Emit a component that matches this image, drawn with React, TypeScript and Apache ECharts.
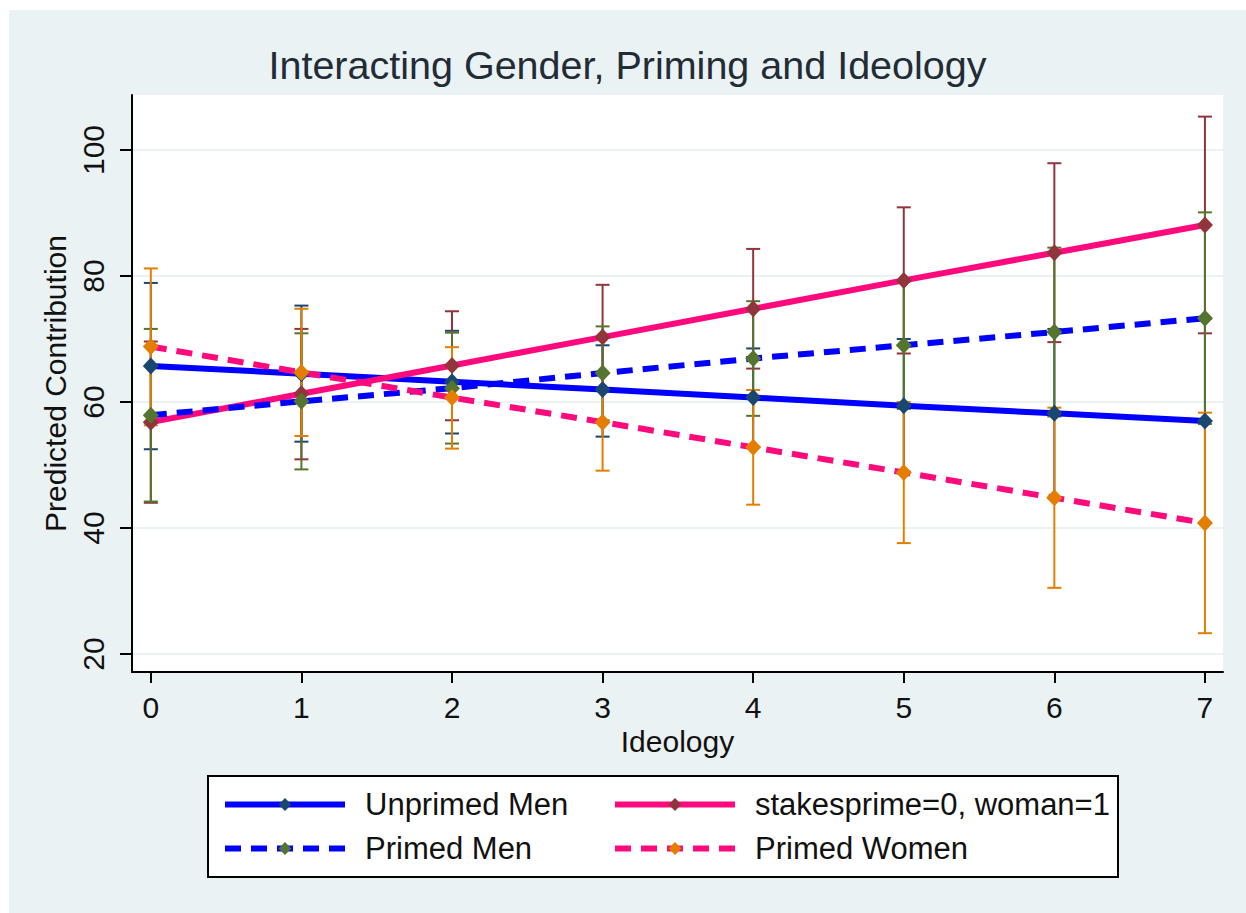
import React, { useEffect, useRef } from "react";
import * as echarts from "echarts";

// Ideology scale positions (x values)
const ideology = [0, 1, 2, 3, 4, 5, 6, 7];
const yTicks = [20, 40, 60, 80, 100];
const xTicks = [0, 1, 2, 3, 4, 5, 6, 7];

// Predicted contributions by group, with 95% interval bounds
const unprimedMen = [65.7, 64.5, 63.2, 62.0, 60.7, 59.4, 58.2, 57.0];
const unprimedMenLo = [52.5, 53.7, 55.0, 54.5, 52.9, 48.8, 44.8, 40.8];
const unprimedMenHi = [78.9, 75.3, 71.3, 69.0, 68.5, 70.0, 71.6, 73.2];

const unprimedWomen = [56.8, 61.3, 65.8, 70.3, 74.8, 79.3, 83.7, 88.1];
const unprimedWomenLo = [44.0, 50.9, 57.1, 62.0, 65.3, 67.7, 69.5, 70.9];
const unprimedWomenHi = [69.6, 71.6, 74.4, 78.6, 84.3, 90.9, 97.9, 105.3];

const primedMen = [57.9, 60.1, 62.2, 64.6, 66.9, 69.0, 71.1, 73.3];
const primedMenLo = [44.2, 49.3, 53.4, 57.1, 57.8, 58.9, 57.7, 56.5];
const primedMenHi = [71.6, 70.9, 71.0, 72.0, 76.0, 79.1, 84.5, 90.1];

const primedWomen = [68.8, 64.7, 60.7, 56.8, 52.8, 48.8, 44.8, 40.8];
const primedWomenLo = [56.3, 54.6, 52.6, 49.1, 43.7, 37.6, 30.5, 23.3];
const primedWomenHi = [81.2, 74.8, 68.7, 64.5, 61.9, 60.0, 59.1, 58.3];

const NAVY = "#1a476f";
const MAROON = "#90353b";
const GREEN = "#55752f";
const ORANGE = "#e37e00";
const BLUE = "#0000ff";
const PINK = "#ff0a7c";
const BG = "#eaf2f3";
const FONT = "Liberation Sans, Arial, sans-serif";

const groups = [
  { name: "Unprimed Men", mid: unprimedMen, lo: unprimedMenLo, hi: unprimedMenHi, line: BLUE, marker: NAVY, dashed: false },
  { name: "stakesprime=0, woman=1", mid: unprimedWomen, lo: unprimedWomenLo, hi: unprimedWomenHi, line: PINK, marker: MAROON, dashed: false },
  { name: "Primed Men", mid: primedMen, lo: primedMenLo, hi: primedMenHi, line: BLUE, marker: GREEN, dashed: true },
  { name: "Primed Women", mid: primedWomen, lo: primedWomenLo, hi: primedWomenHi, line: PINK, marker: ORANGE, dashed: true },
];

const legendSlots = [
  { left: 213, top: 779 },
  { left: 603, top: 779 },
  { left: 213, top: 823 },
  { left: 603, top: 823 },
];

function capBars(color: string) {
  return (_params: any, api: any) => {
    const x = api.value(0);
    const pLo = api.coord([x, api.value(1)]);
    const pHi = api.coord([x, api.value(2)]);
    const hw = 7;
    const style = { stroke: color, lineWidth: 2 };
    return {
      type: "group",
      children: [
        { type: "line", shape: { x1: pLo[0], y1: pLo[1], x2: pHi[0], y2: pHi[1] }, style },
        { type: "line", shape: { x1: pLo[0] - hw, y1: pLo[1], x2: pLo[0] + hw, y2: pLo[1] }, style },
        { type: "line", shape: { x1: pHi[0] - hw, y1: pHi[1], x2: pHi[0] + hw, y2: pHi[1] }, style },
      ],
    };
  };
}

export default function App() {
  const ref = useRef<HTMLDivElement>(null);

  useEffect(() => {
    if (!ref.current) return;
    const chart = echarts.init(ref.current, null, { renderer: "svg" });

    const barSeries = groups.map((g) => ({
      type: "custom",
      name: g.name + " CI",
      z: 1,
      silent: true,
      renderItem: capBars(g.marker),
      encode: { x: 0, y: [1, 2] },
      data: ideology.map((x, i) => [x, g.lo[i], g.hi[i]]),
    }));

    const lineSeries = groups.map((g) => ({
      type: "line",
      name: g.name,
      z: 3,
      data: ideology.map((x, i) => [x, g.mid[i]]),
      symbol: "diamond",
      symbolSize: [16, 17],
      showSymbol: true,
      itemStyle: { color: g.marker },
      lineStyle: {
        color: g.line,
        width: 6,
        type: g.dashed ? [16, 10] : "solid",
      },
    }));

    chart.setOption({
      animation: false,
      backgroundColor: BG,
      title: {
        text: "Interacting Gender, Priming and Ideology",
        left: "center",
        top: 30,
        textStyle: { fontFamily: FONT, fontSize: 39.5, fontWeight: "normal", color: "#222b36" },
      },
      legend: groups.map((g, i) => ({
        data: [g.name],
        left: legendSlots[i].left,
        top: legendSlots[i].top,
        padding: 0,
        itemWidth: 120,
        itemHeight: 16,
        selectedMode: false,
        lineStyle: { width: 6 },
        textStyle: { fontFamily: FONT, fontSize: 31, color: "#111", padding: [0, 0, 0, 15] },
      })),
      graphic: [
        {
          type: "rect",
          z: 1,
          shape: { x: 199, y: 766, width: 910, height: 101 },
          style: { fill: "#fff", stroke: "#000", lineWidth: 2 },
        },
      ],
      grid: {
        left: 123,
        right: 23,
        top: 85,
        bottom: 241,
        show: true,
        backgroundColor: "#fff",
        borderWidth: 0,
      },
      xAxis: {
        type: "value",
        min: -0.125,
        max: 7.12,
        name: "Ideology",
        nameLocation: "middle",
        nameGap: 48,
        nameTextStyle: { fontFamily: FONT, fontSize: 30, color: "#111" },
        axisLine: { show: true, onZero: false, lineStyle: { color: "#000", width: 2 } },
        axisTick: { show: true, length: 11, lineStyle: { color: "#000", width: 2 }, customValues: xTicks },
        axisLabel: { fontFamily: FONT, fontSize: 30, color: "#111", margin: 20, customValues: xTicks },
        splitLine: { show: false },
      },
      yAxis: {
        type: "value",
        min: 17.14,
        max: 108.73,
        name: "Predicted Contribution",
        nameLocation: "middle",
        nameGap: 58,
        nameTextStyle: { fontFamily: FONT, fontSize: 30, color: "#111" },
        axisLine: { show: true, onZero: false, lineStyle: { color: "#000", width: 2 } },
        axisTick: { show: true, length: 12, lineStyle: { color: "#000", width: 2 }, customValues: yTicks },
        axisLabel: { fontFamily: FONT, fontSize: 30, color: "#111", margin: 24, rotate: 90, customValues: yTicks },
        splitLine: { show: true, lineStyle: { color: BG, width: 2 } },
      },
      series: [...barSeries, ...lineSeries],
    });

    return () => chart.dispose();
  }, []);

  return (
    <div
      ref={ref}
      style={{ position: "absolute", left: 9, top: 10, width: 1237, height: 903 }}
    />
  );
}
